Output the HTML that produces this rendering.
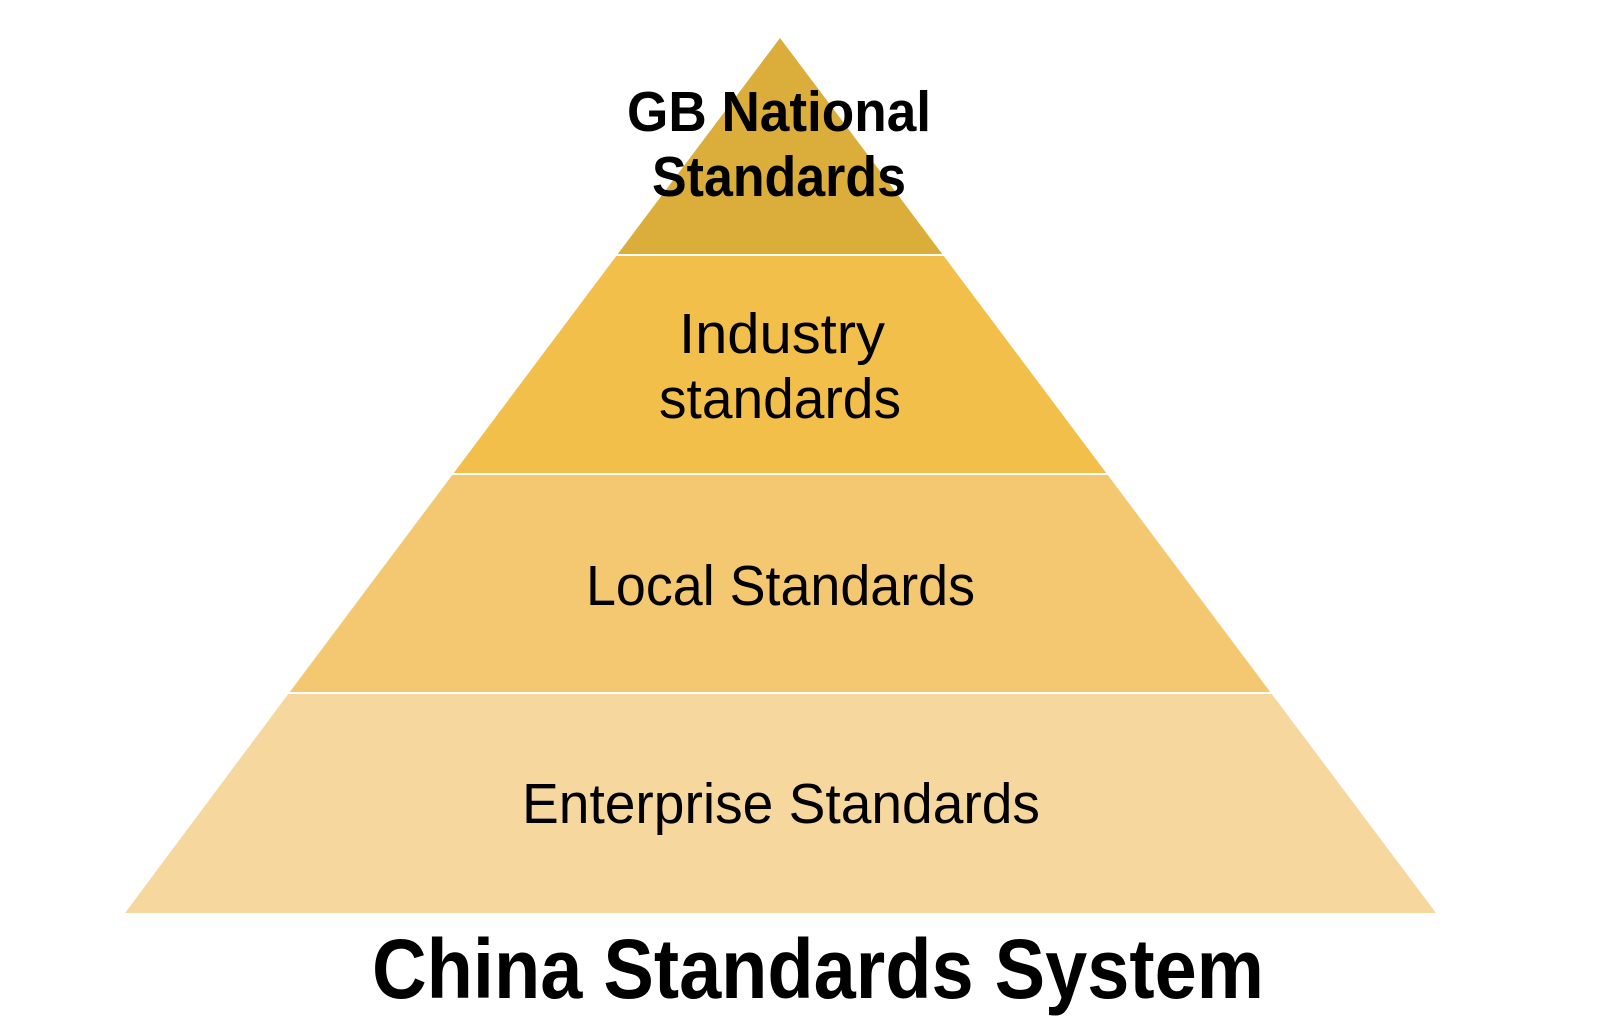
<!DOCTYPE html>
<html><head><meta charset="utf-8"><style>
html,body{margin:0;padding:0;background:#fff;}
svg{display:block;}
text{font-family:"Liberation Sans",sans-serif;fill:#000;}
</style></head><body>
<svg width="1620" height="1020" viewBox="0 0 1620 1020" xmlns="http://www.w3.org/2000/svg">
<polygon points="780,38 617,255 943,255" fill="#DBAE3B"/>
<polygon points="617,255 943,255 1107,474 453,474" fill="#F2BF4B"/>
<polygon points="453,474 1107,474 1271,693 289,693" fill="#F4C870"/>
<polygon points="289,693 1271,693 1436,913 125,913" fill="#F6D79D"/>
<line x1="610" y1="255" x2="950" y2="255" stroke="#fff" stroke-width="2"/>
<line x1="446" y1="474" x2="1114" y2="474" stroke="#fff" stroke-width="2"/>
<line x1="282" y1="693" x2="1278" y2="693" stroke="#fff" stroke-width="2"/>
<text x="627" y="131" font-size="57" font-weight="bold" textLength="304" lengthAdjust="spacingAndGlyphs">GB National</text>
<text x="652" y="196" font-size="57" font-weight="bold" textLength="254" lengthAdjust="spacingAndGlyphs">Standards</text>
<text x="679" y="353" font-size="57" textLength="206" lengthAdjust="spacingAndGlyphs">Industry</text>
<text x="659" y="418" font-size="57" textLength="242" lengthAdjust="spacingAndGlyphs">standards</text>
<text x="586" y="605" font-size="57" textLength="389" lengthAdjust="spacingAndGlyphs">Local Standards</text>
<text x="522" y="823" font-size="57" textLength="518" lengthAdjust="spacingAndGlyphs">Enterprise Standards</text>
<text x="372" y="998" font-size="84" font-weight="bold" textLength="892" lengthAdjust="spacingAndGlyphs">China Standards System</text>
</svg>
</body></html>
